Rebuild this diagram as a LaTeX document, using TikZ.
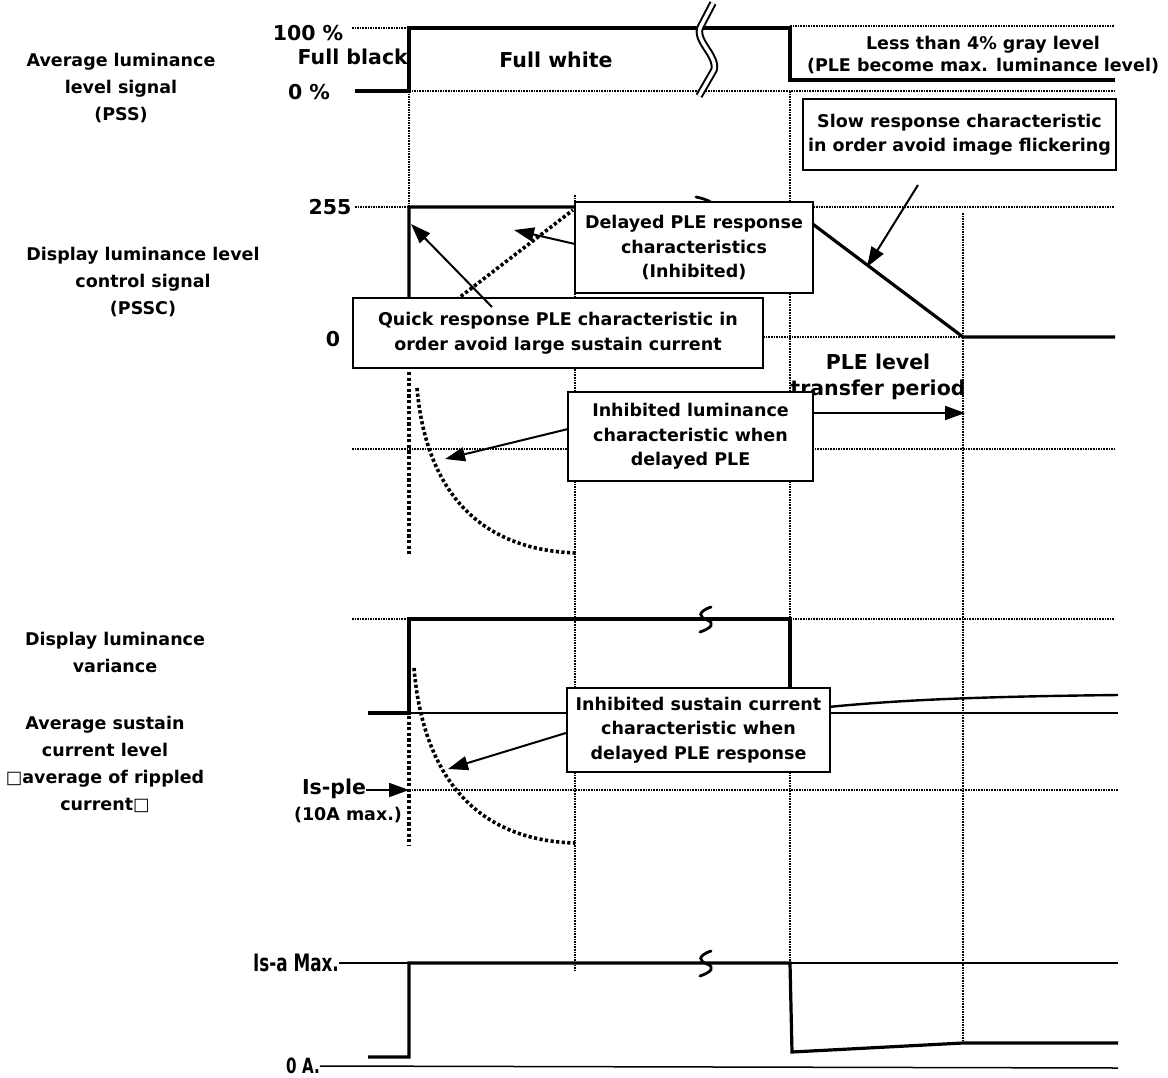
\documentclass[tikz,border=0pt]{standalone}
\usepackage{fontspec}
\setmainfont{DejaVu Sans}
\usetikzlibrary{arrows.meta}
\begin{document}
\begin{tikzpicture}[x=1pt,y=-1pt,
  lbl/.style={font=\bfseries\fontsize{17.5}{27}\selectfont, align=center, inner sep=0pt},
  big/.style={font=\bfseries\fontsize{20.5}{26}\selectfont, align=center, inner sep=0pt},
  boxnode/.style={draw, line width=2.2pt, fill=white, align=center, inner sep=0pt,
     font=\bfseries\fontsize{17.5}{24.5}\selectfont},
  sig/.style={line width=3.2pt},
  thinln/.style={line width=1.5pt},
  dotln/.style={line width=1.6pt, dash pattern=on 1.6pt off 1pt},
  fatdot/.style={line width=3.6pt, dash pattern=on 3.2pt off 2.4pt},
  arr/.style={line width=2pt, -{Triangle[length=20pt,width=14pt]}},
  brk/.style={line width=2.8pt, line cap=round}
]
\useasboundingbox (0,0) rectangle (1168,1077);
\fill[white] (0,0) rectangle (1168,1077);

% ---------- left labels ----------
\node[lbl] (pss) at (121,88) {Average luminance\\level signal\\(PSS)};
\node[lbl] (pssc) at (143,282) {Display luminance level\\control signal\\(PSSC)};
\node[lbl] (var) at (115,652) {Display luminance\\variance};
\node[lbl] (sus) at (105,764) {Average sustain\\current level\\□average of rippled\\current□};

% ---------- vertical dotted grid ----------
\draw[dotln] (409,91) -- (409,207);
\draw[fatdot] (409,372) -- (409,556);
\draw[fatdot] (409,716) -- (409,846);
\draw[dotln] (575,195) -- (575,972);
\draw[dotln] (790,91) -- (790,963);
\draw[dotln] (963,213) -- (963,1043);

% ---------- section 1 : PSS ----------
\draw[dotln] (352,28) -- (409,28);
\draw[dotln] (790,26) -- (1115,26);
\draw[dotln] (409,91) -- (1115,91);
\draw[sig] (355,91) -- (409,91) -- (409,28) -- (790,28) -- (790,80) -- (1115,80);
\draw[line width=2pt, double=white, double distance=3.5pt]
  (713,3) -- (701,26) .. controls (693,40) and (718,55) .. (714,70) -- (699,96);
\node[big] (p100) at (308,33) {100 \%};
\node[big, anchor=east] (fblack) at (408,57) {Full black};
\node[big] (p0) at (309,92) {0 \%};
\node[big] (fwhite) at (556,60) {Full white};
\node[lbl, font=\bfseries\fontsize{17.5}{22}\selectfont] (less) at (983,55)
  {Less than 4\% gray level\\(PLE become max. luminance level)};

% ---------- section 2 : PSSC ----------
\draw[dotln] (355,207) -- (409,207);
\draw[dotln] (790,207) -- (1115,207);
\draw[dotln] (355,337) -- (963,337);
\draw[dotln] (352,449) -- (1115,449);
\draw[sig] (409,337) -- (409,207) -- (790,207) -- (963,337) -- (1115,337);
\draw[brk] (696,197) .. controls (706,199) and (712,202) .. (716,206);
\draw[fatdot] (412,334) -- (573,210);
\coordinate (lumtop) at (417,388);
\draw[fatdot] (lumtop) .. controls (425,480) and (470,550) .. (577,553);
\node[big] (l255) at (330,207) {255};
\node[big] (l0) at (333,339) {0};
\node[big] (ple) at (878,377) {PLE level\\transfer period};

\node[boxnode, minimum width=313pt, minimum height=71pt] (slow) at (959.5,134.5)
  {Slow response characteristic\\in order avoid image flickering};
\node[boxnode, minimum width=238pt, minimum height=91pt] (delayed) at (694,247.5)
  {Delayed PLE response\\characteristics\\(Inhibited)};
\node[boxnode, minimum width=410pt, minimum height=70pt] (quick) at (558,333)
  {Quick response PLE characteristic in\\order avoid large sustain current};
\node[boxnode, minimum width=245pt, minimum height=89pt] (inlum) at (690.5,436.5)
  {Inhibited luminance\\characteristic when\\delayed PLE};

\coordinate (slowstart) at (918,185);
\coordinate (slowtip) at (867,267);
\coordinate (quickstart) at (492,307);
\coordinate (quicktip) at (411,224);
\coordinate (delstart) at (575,244);
\coordinate (deltip) at (514,230);
\coordinate (lumstart) at (568,429);
\coordinate (lumtip) at (445,459);
\coordinate (trtip) at (965,413);
\draw[arr] (slowstart) -- (slowtip);
\draw[arr] (quickstart) -- (quicktip);
\draw[arr] (delstart) -- (deltip);
\draw[arr] (lumstart) -- (lumtip);
\draw[arr] (inlum.east |- trtip) -- (trtip);

% ---------- section 3 : luminance variance / sustain current ----------
\draw[dotln] (352,619) -- (409,619);
\draw[dotln] (790,619) -- (1115,619);
\draw[dotln] (409,790) -- (1118,790);
\draw[thinln] (368,713) -- (1118,713);
\draw[sig] (368,713) -- (409,713) -- (409,619) -- (790,619) -- (790,712);
\draw[line width=2.4pt] (790,711) .. controls (870,702) and (940,697) .. (1118,695);
\draw[brk] (711,607) .. controls (697,612) and (699,617) .. (707,620)
  .. controls (715,623) and (712,628) .. (700,632);
\coordinate (suscurve) at (414,668);
\draw[fatdot] (suscurve) .. controls (422,765) and (467,840) .. (575,843);
\node[boxnode, minimum width=263pt, minimum height=84pt] (insus) at (698.5,730)
  {Inhibited sustain current\\characteristic when\\delayed PLE response};
\coordinate (sustip) at (448,769);
\draw[arr] (insus.west |- 0,733) -- (sustip);
\node[big] (isple) at (334,789) {Is-ple};
\node[lbl] (tenA) at (348,815) {(10A max.)};
\coordinate (isplestart) at (366,790);
\coordinate (ispletip) at (409,790);
\draw[arr] (isplestart) -- (ispletip);

% ---------- section 4 : Is-a ----------
\node[big, font=\bfseries\fontsize{24}{26}\selectfont, xscale=0.7] (isa) at (296,963) {Is-a Max.};
\node[big, font=\bfseries\fontsize{21}{24}\selectfont, xscale=0.72] (zeroA) at (303,1066) {0 A.};
\draw[thinln] (isa.east) -- (1118,963);
\draw[thinln] (zeroA.east) -- (1118,1068);
\draw[sig] (368,1057) -- (409,1057) -- (409,963) -- (790,963) -- (792,1052) -- (963,1043) -- (1118,1043);
\draw[brk] (711,951) .. controls (697,956) and (699,961) .. (707,964)
  .. controls (715,967) and (712,972) .. (700,976);
\end{tikzpicture}
\end{document}
